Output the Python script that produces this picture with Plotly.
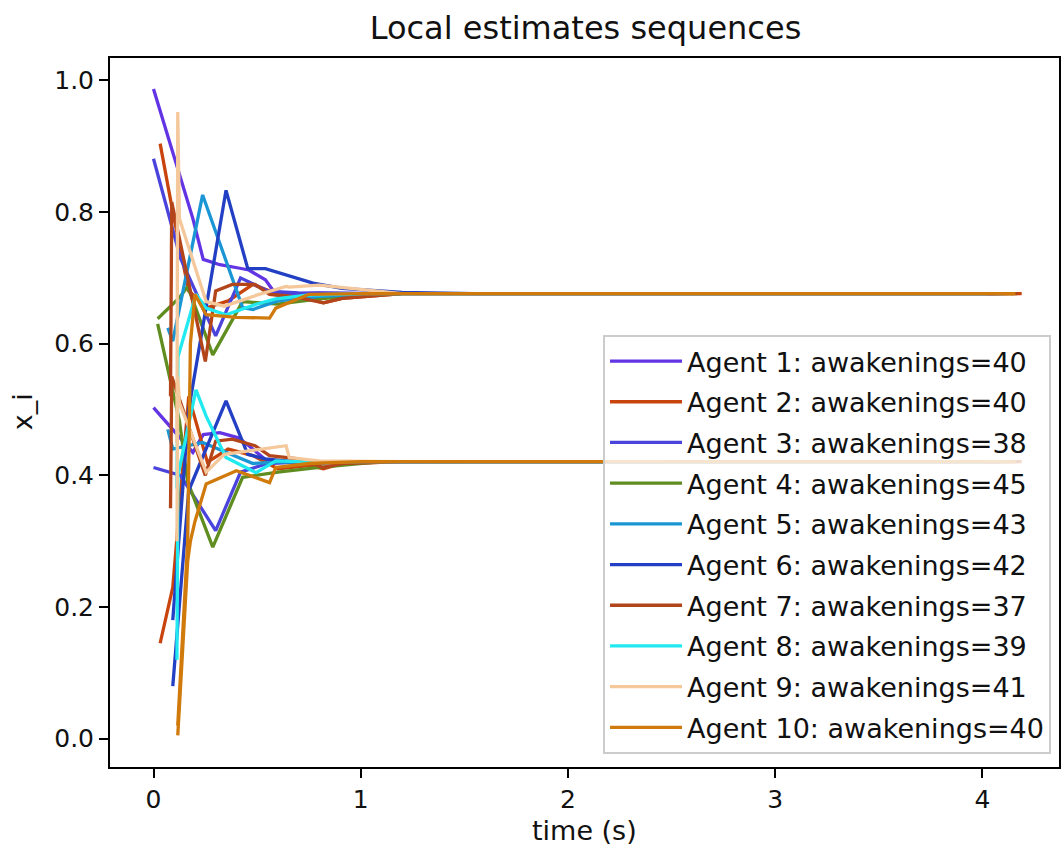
import plotly.graph_objects as go

agent_names = [f"Agent {i}" for i in range(1, 11)]
awakenings = [40, 40, 38, 45, 43, 42, 37, 39, 41, 40]
colors = ["#6234e4", "#c8440c", "#4b44dc", "#5f8d1f", "#1b96d4",
          "#2340c4", "#b3451b", "#20eaf0", "#f5c89b", "#d17a0c"]

# time of each awakening (s) and the two components of x_i
t1 = [0, 0.19, 0.24, 0.32, 0.41, 0.46, 0.54, 0.59, 0.8, 1.1, 4.12]
a1 = [0.987, 0.79, 0.728, 0.72, 0.715, 0.712, 0.697, 0.675, 0.677, 0.676, 0.676]
b1 = [0.503, 0.435, 0.462, 0.465, 0.457, 0.445, 0.424, 0.42, 0.421, 0.421, 0.421]

t2 = [0.032, 0.093, 0.17, 0.26, 0.36, 0.48, 0.6, 0.75, 0.82, 0.91, 1.2, 4.19]
a2 = [0.904, 0.80, 0.68, 0.655, 0.665, 0.69, 0.675, 0.668, 0.662, 0.669, 0.676, 0.676]
b2 = [0.145, 0.23, 0.52, 0.42, 0.44, 0.43, 0.41, 0.415, 0.41, 0.418, 0.421, 0.421]

t3 = [0, 0.13, 0.30, 0.42, 0.55, 0.7, 1.0, 4.05]
a3 = [0.881, 0.73, 0.612, 0.70, 0.68, 0.677, 0.676, 0.676]
b3 = [0.412, 0.40, 0.316, 0.405, 0.418, 0.42, 0.421, 0.421]

t4 = [0.02, 0.125, 0.165, 0.286, 0.43, 0.6, 0.8, 1.1, 4.15]
a4 = [0.638, 0.67, 0.687, 0.583, 0.664, 0.66, 0.668, 0.676, 0.676]
b4 = [0.63, 0.483, 0.39, 0.291, 0.397, 0.405, 0.412, 0.421, 0.421]

t5 = [0.069, 0.093, 0.237, 0.43, 0.48, 0.6, 0.8, 1.1, 4.10]
a5 = [0.624, 0.604, 0.826, 0.655, 0.652, 0.665, 0.672, 0.676, 0.676]
b5 = [0.47, 0.44, 0.45, 0.425, 0.418, 0.42, 0.42, 0.421, 0.421]

t6 = [0.093, 0.17, 0.35, 0.455, 0.54, 0.77, 0.91, 1.2, 1.55, 4.08]
a6 = [0.18, 0.50, 0.833, 0.714, 0.714, 0.692, 0.684, 0.678, 0.676, 0.676]
b6 = [0.08, 0.377, 0.513, 0.432, 0.425, 0.418, 0.42, 0.421, 0.421, 0.421]

t7 = [0.082, 0.088, 0.25, 0.30, 0.38, 0.49, 0.56, 0.7, 0.82, 0.91, 1.2, 4.17]
a7 = [0.52, 0.815, 0.573, 0.68, 0.69, 0.69, 0.675, 0.67, 0.662, 0.669, 0.676, 0.676]
b7 = [0.35, 0.55, 0.40, 0.452, 0.455, 0.445, 0.43, 0.425, 0.412, 0.418, 0.421, 0.421]

t8 = [0.113, 0.118, 0.205, 0.254, 0.35, 0.495, 0.59, 0.75, 1.0, 4.02]
a8 = [0.38, 0.58, 0.675, 0.654, 0.644, 0.66, 0.668, 0.674, 0.676, 0.676]
b8 = [0.12, 0.40, 0.53, 0.49, 0.427, 0.404, 0.422, 0.42, 0.421, 0.421]

t9 = [0.113, 0.117, 0.125, 0.254, 0.342, 0.51, 0.64, 0.655, 0.8, 1.2, 4.14]
a9 = [0.45, 0.952, 0.79, 0.664, 0.657, 0.675, 0.687, 0.686, 0.689, 0.676, 0.676]
b9 = [0.30, 0.55, 0.51, 0.405, 0.432, 0.44, 0.445, 0.427, 0.422, 0.421, 0.421]

t10 = [0.117, 0.165, 0.178, 0.2, 0.254, 0.40, 0.56, 0.59, 0.75, 1.0, 4.16]
a10 = [0.02, 0.30, 0.60, 0.675, 0.644, 0.64, 0.639, 0.654, 0.675, 0.676, 0.676]
b10 = [0.005, 0.27, 0.30, 0.33, 0.387, 0.407, 0.389, 0.412, 0.418, 0.421, 0.421]

times = [t1, t2, t3, t4, t5, t6, t7, t8, t9, t10]
comp_a = [a1, a2, a3, a4, a5, a6, a7, a8, a9, a10]
comp_b = [b1, b2, b3, b4, b5, b6, b7, b8, b9, b10]

xticks = [0, 1, 2, 3, 4]
yticks = [0.0, 0.2, 0.4, 0.6, 0.8, 1.0]

FONT = "DejaVu Sans"
fig = go.Figure()
for i in range(10):
    label = f"{agent_names[i]}: awakenings={awakenings[i]}"
    for j, comp in enumerate([comp_a[i], comp_b[i]]):
        fig.add_trace(go.Scatter(
            x=times[i], y=comp, mode="lines",
            line=dict(color=colors[i], width=3.3),
            name=label, legendgroup=f"g{i}", showlegend=(j == 0),
        ))

L, R, T, B = 110, 1, 58, 86
pw = 1062 - L - R
ph = 853 - T - B

axis_common = dict(
    showgrid=False, zeroline=False, showline=True, mirror=True,
    linecolor="black", linewidth=2, ticks="outside", ticklen=9,
    tickwidth=2, tickcolor="black",
    tickfont=dict(family=FONT, size=25, color="#111"),
)

fig.update_layout(
    width=1062, height=853,
    margin=dict(l=L, r=R, t=T, b=B, pad=0),
    paper_bgcolor="white", plot_bgcolor="white",
    font=dict(family=FONT, color="#111"),
    title=dict(text="Local estimates sequences", x=(L + pw / 2) / 1062,
               xanchor="center", y=1 - 28 / 853, yanchor="middle",
               font=dict(family=FONT, size=32, color="#111")),
    xaxis=dict(range=[-0.21, 4.37], tickvals=xticks,
               ticktext=[str(v) for v in xticks], **axis_common),
    yaxis=dict(range=[-0.043, 1.034], tickvals=yticks,
               ticktext=[f"{v:.1f}" for v in yticks], **axis_common),
    legend=dict(x=(1053 - L) / pw, xanchor="right",
                y=(767 - 754) / ph, yanchor="bottom",
                bgcolor="rgba(255,255,255,0.8)", bordercolor="#cccccc",
                borderwidth=2, font=dict(family=FONT, size=27, color="#111"),
                tracegroupgap=2.6, itemwidth=72, traceorder="grouped"),
    annotations=[
        dict(text="time (s)", xref="paper", yref="paper", x=0.5,
             y=(767 - 830) / ph, xanchor="center", yanchor="middle",
             showarrow=False, font=dict(family=FONT, size=27, color="#111")),
        dict(text="x_i", xref="paper", yref="paper", x=(22 - L) / pw,
             y=(767 - 412) / ph, xanchor="center", yanchor="middle",
             textangle=-90, showarrow=False,
             font=dict(family=FONT, size=27, color="#111")),
    ],
)

fig.write_html("out.html")
